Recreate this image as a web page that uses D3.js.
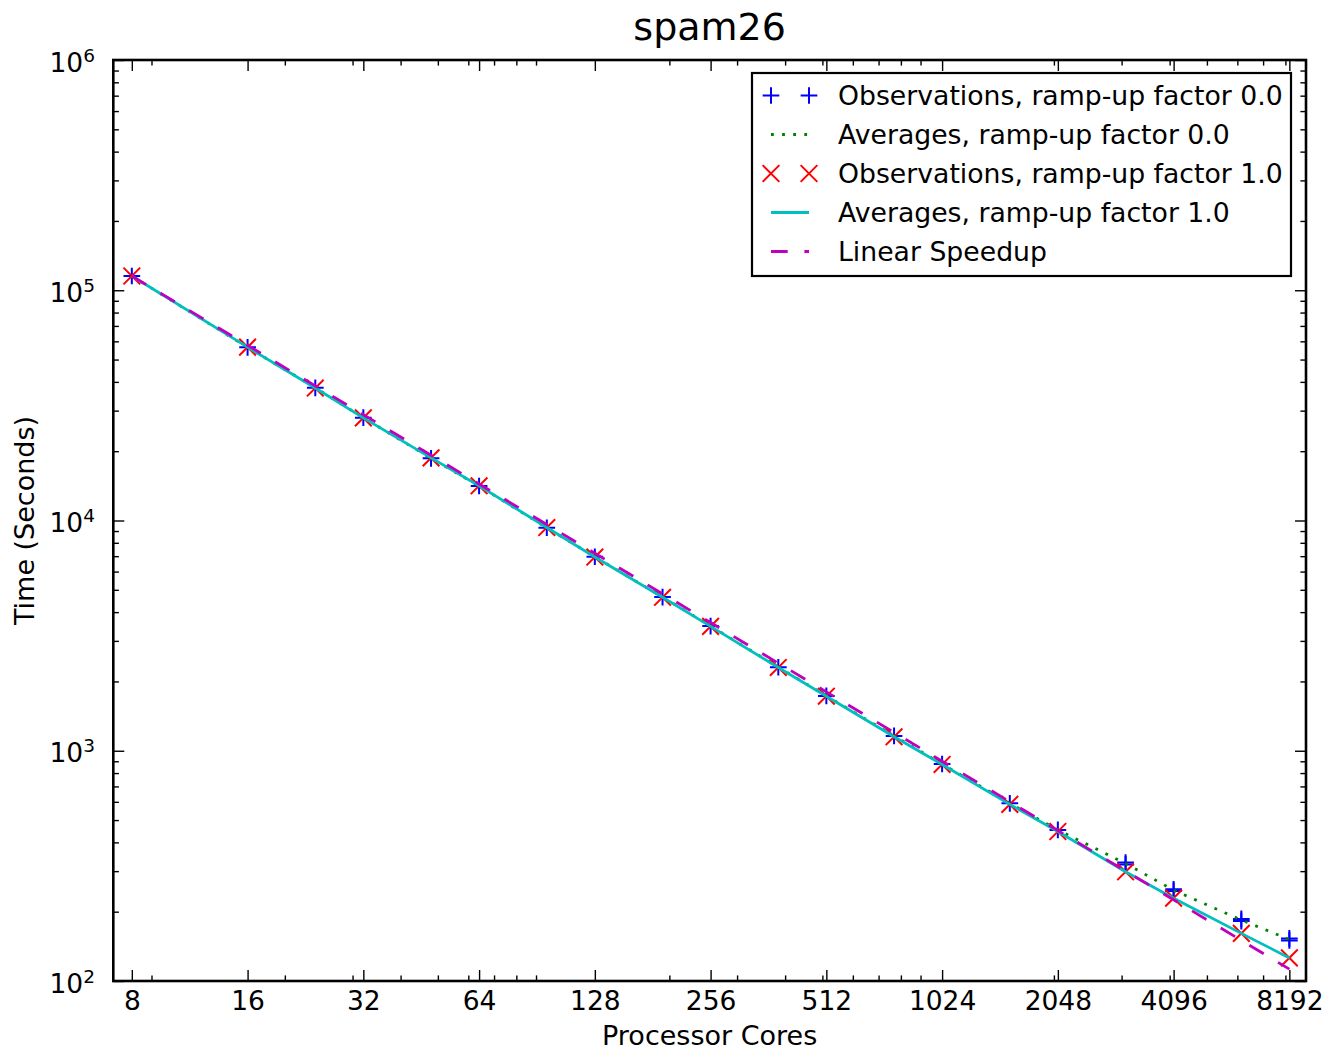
<!DOCTYPE html>
<html>
<head>
<meta charset="utf-8">
<script src="https://cdn.jsdelivr.net/npm/d3@7"></script>
<style>
  html, body { margin: 0; padding: 0; background: #fff; }
  svg { display: block; font-family: "DejaVu Sans", sans-serif; }
</style>
</head>
<body>
<svg id="chart" width="1331" height="1053"></svg>
<script>
// ---------------- DATA ----------------
const title = "spam26";
const xLabel = "Processor Cores";
const yLabel = "Time (Seconds)";
const xTickValues = [8, 16, 32, 64, 128, 256, 512, 1024, 2048, 4096, 8192];
const xMinorTicks = [9, 20, 30, 40, 50, 60, 70, 80, 90, 200, 300, 400, 500, 600, 700, 800, 900,
                     2000, 3000, 4000, 5000, 6000, 7000, 8000, 9000];
const yTickExponents = [2, 3, 4, 5, 6];
const yMinorTicks = [200,300,400,500,600,700,800,900, 2000,3000,4000,5000,6000,7000,8000,9000,
                     20000,30000,40000,50000,60000,70000,80000,90000,
                     200000,300000,400000,500000,600000,700000,800000,900000];

const cores = [8, 16, 24, 32, 48, 64, 96, 128, 192, 256, 384, 512, 768, 1024, 1536, 2048, 3072, 4096, 6144, 8192];

// Observations, ramp-up factor 0.0 (core count, seconds)
const obsRamp0 = [
  [8,115300],[16,56500],[24,37700],[32,27950],[48,18630],[64,14120],[96,9300],[128,6960],
  [192,4650],[256,3480],[384,2305],[512,1730],[768,1160],[1024,876],[1536,591],[2048,453],
  [3072,327],[3072,321],[4096,250],[4096,246],[6144,186],[6144,182],[8192,153],[8192,150]
];
// Averages, ramp-up factor 0.0
const avgRamp0 = [115300,56500,37700,27950,18630,14120,9300,6960,4650,3480,2305,1730,1160,876,591,453,324,248,184,151.5];

// Observations, ramp-up factor 1.0
const obsRamp1 = [
  [8,115300],[16,56600],[24,37600],[32,27900],[48,18700],[64,14150],[96,9320],[128,6940],
  [192,4640],[256,3470],[384,2300],[512,1725],[768,1150],[1024,872],[1536,585],[2048,446],
  [3072,298],[4096,229],[6144,161],[8192,126]
];
// Averages, ramp-up factor 1.0
const avgRamp1 = [115300,56600,37600,27900,18700,14150,9320,6940,4640,3470,2300,1725,1150,872,585,446,298,229,161,126];

// Linear speedup from the 8-core time
const linearBase = 115300;
const linearSpeedup = cores.map(c => linearBase * 8 / c);

const legendLabels = [
  "Observations, ramp-up factor 0.0",
  "Averages, ramp-up factor 0.0",
  "Observations, ramp-up factor 1.0",
  "Averages, ramp-up factor 1.0",
  "Linear Speedup"
];

// ---------------- LAYOUT ----------------
const L = 113.3, R = 1306, T = 60, B = 981;
const FS = 26.5, FSL = 26.7, FSA = 27;
const svg = d3.select("#chart");

const x = d3.scaleLog().base(2).domain([7.16, 9050]).range([L, R]);
const y = d3.scaleLog().base(10).domain([100, 1e6]).range([B, T]);

const C = { blue: "#0000ff", green: "#008000", red: "#ff0000", cyan: "#00bfbf", magenta: "#bf00bf" };

// ---------------- AXES ----------------
function styleAxis(g) {
  g.select(".domain").remove();
  g.selectAll(".tick line").attr("stroke", "#000").attr("stroke-width", 1.4);
}
// bottom major
const gxb = svg.append("g").attr("transform", `translate(0,${B})`)
  .call(d3.axisBottom(x).tickValues(xTickValues).tickFormat(d => String(d)).tickSize(-11).tickPadding(10.3));
styleAxis(gxb);
gxb.selectAll(".tick text").attr("font-size", FS).attr("font-family", "DejaVu Sans").attr("fill", "#000");
// bottom minor
styleAxis(svg.append("g").attr("transform", `translate(0,${B})`)
  .call(d3.axisBottom(x).tickValues(xMinorTicks.filter(v => x(v) < R - 1)).tickFormat("").tickSize(-5.6)));
// top major + minor
styleAxis(svg.append("g").attr("transform", `translate(0,${T})`)
  .call(d3.axisTop(x).tickValues(xTickValues).tickFormat("").tickSize(-11)));
styleAxis(svg.append("g").attr("transform", `translate(0,${T})`)
  .call(d3.axisTop(x).tickValues(xMinorTicks.filter(v => x(v) < R - 1)).tickFormat("").tickSize(-5.6)));

// left major
const yMajor = yTickExponents.map(e => Math.pow(10, e));
const gyl = svg.append("g").attr("transform", `translate(${L},0)`)
  .call(d3.axisLeft(y).tickValues(yMajor).tickFormat(d => String(Math.round(Math.log10(d)))).tickSize(-11).tickPadding(18));
styleAxis(gyl);
gyl.selectAll(".tick text").each(function(d) {
  const t = d3.select(this);
  const e = Math.round(Math.log10(d));
  t.text(null).attr("font-family", "DejaVu Sans").attr("fill", "#000").attr("dy", null)
    .attr("x", 95 - L).attr("y", 0).attr("text-anchor", "end");
  t.append("tspan").attr("font-size", FS).attr("dy", 11).text("10");
  t.append("tspan").attr("font-size", 18.5).attr("dy", -10).text(e);
});
styleAxis(svg.append("g").attr("transform", `translate(${L},0)`)
  .call(d3.axisLeft(y).tickValues(yMinorTicks).tickFormat("").tickSize(-5.6)));
// right
styleAxis(svg.append("g").attr("transform", `translate(${R},0)`)
  .call(d3.axisRight(y).tickValues(yMajor).tickFormat("").tickSize(-11)));
styleAxis(svg.append("g").attr("transform", `translate(${R},0)`)
  .call(d3.axisRight(y).tickValues(yMinorTicks).tickFormat("").tickSize(-5.6)));

// ---------------- SERIES ----------------
const plot = svg.append("g");
const line = d3.line().x(d => x(d[0])).y(d => y(d[1]));
const MS = 8.35; // marker half-size

function plusMarkers(data, color) {
  const g = plot.append("g");
  data.forEach(d => {
    const cx = x(d[0]), cy = y(d[1]);
    g.append("path").attr("d", `M${cx - MS},${cy}H${cx + MS}M${cx},${cy - MS}V${cy + MS}`)
      .attr("stroke", color).attr("stroke-width", 2).attr("fill", "none");
  });
}
function xMarkers(data, color) {
  const g = plot.append("g");
  data.forEach(d => {
    const cx = x(d[0]), cy = y(d[1]);
    g.append("path").attr("d", `M${cx - MS},${cy - MS}L${cx + MS},${cy + MS}M${cx - MS},${cy + MS}L${cx + MS},${cy - MS}`)
      .attr("stroke", color).attr("stroke-width", 2).attr("fill", "none");
  });
}

plusMarkers(obsRamp0, C.blue);
plot.append("path").datum(cores.map((c, i) => [c, avgRamp0[i]])).attr("d", line)
  .attr("fill", "none").attr("stroke", C.green).attr("stroke-width", 2.8).attr("stroke-dasharray", "2.8,8.3");
xMarkers(obsRamp1, C.red);
plot.append("path").datum(cores.map((c, i) => [c, avgRamp1[i]])).attr("d", line)
  .attr("fill", "none").attr("stroke", C.cyan).attr("stroke-width", 2.8);
plot.append("path").datum(cores.map((c, i) => [c, linearSpeedup[i]])).attr("d", line)
  .attr("fill", "none").attr("stroke", C.magenta).attr("stroke-width", 2.8).attr("stroke-dasharray", "16.7,16.7");

// ---------------- FRAME ----------------
svg.append("rect").attr("x", L).attr("y", T).attr("width", R - L).attr("height", B - T)
  .attr("fill", "none").attr("stroke", "#000").attr("stroke-width", 2.6);

// ---------------- LABELS ----------------
svg.append("text").attr("x", (L + R) / 2).attr("y", 40).attr("text-anchor", "middle")
  .attr("font-size", 38).attr("fill", "#000").text(title);
svg.append("text").attr("x", (L + R) / 2).attr("y", 1045).attr("text-anchor", "middle")
  .attr("font-size", FSA).attr("fill", "#000").text(xLabel);
svg.append("text").attr("transform", `translate(34,${(T + B) / 2}) rotate(-90)`).attr("text-anchor", "middle")
  .attr("font-size", FSA).attr("fill", "#000").text(yLabel);

// ---------------- LEGEND ----------------
const lg = svg.append("g");
lg.append("rect").attr("x", 752).attr("y", 73).attr("width", 539).attr("height", 203)
  .attr("fill", "#fff").attr("stroke", "#000").attr("stroke-width", 2.2);
const rowBase = [105, 144, 183, 222, 261];
const hx0 = 771, hx1 = 809;
legendLabels.forEach((lab, i) => {
  const by = rowBase[i], cy = by - 9.5;
  lg.append("text").attr("x", 838).attr("y", by).attr("font-size", FSL).attr("fill", "#000").text(lab);
  if (i === 0 || i === 2) {
    [hx0, hx1].forEach(cx => {
      const d = i === 0
        ? `M${cx - MS},${cy}H${cx + MS}M${cx},${cy - MS}V${cy + MS}`
        : `M${cx - MS},${cy - MS}L${cx + MS},${cy + MS}M${cx - MS},${cy + MS}L${cx + MS},${cy - MS}`;
      lg.append("path").attr("d", d).attr("stroke", i === 0 ? C.blue : C.red).attr("stroke-width", 2).attr("fill", "none");
    });
  } else {
    const st = i === 1 ? { c: C.green, da: "2.8,8.3" } : i === 3 ? { c: C.cyan, da: null } : { c: C.magenta, da: "16.7,16.7" };
    lg.append("line").attr("x1", hx0).attr("x2", hx1).attr("y1", cy).attr("y2", cy)
      .attr("stroke", st.c).attr("stroke-width", 2.8).attr("stroke-dasharray", st.da);
  }
});
</script>
</body>
</html>
